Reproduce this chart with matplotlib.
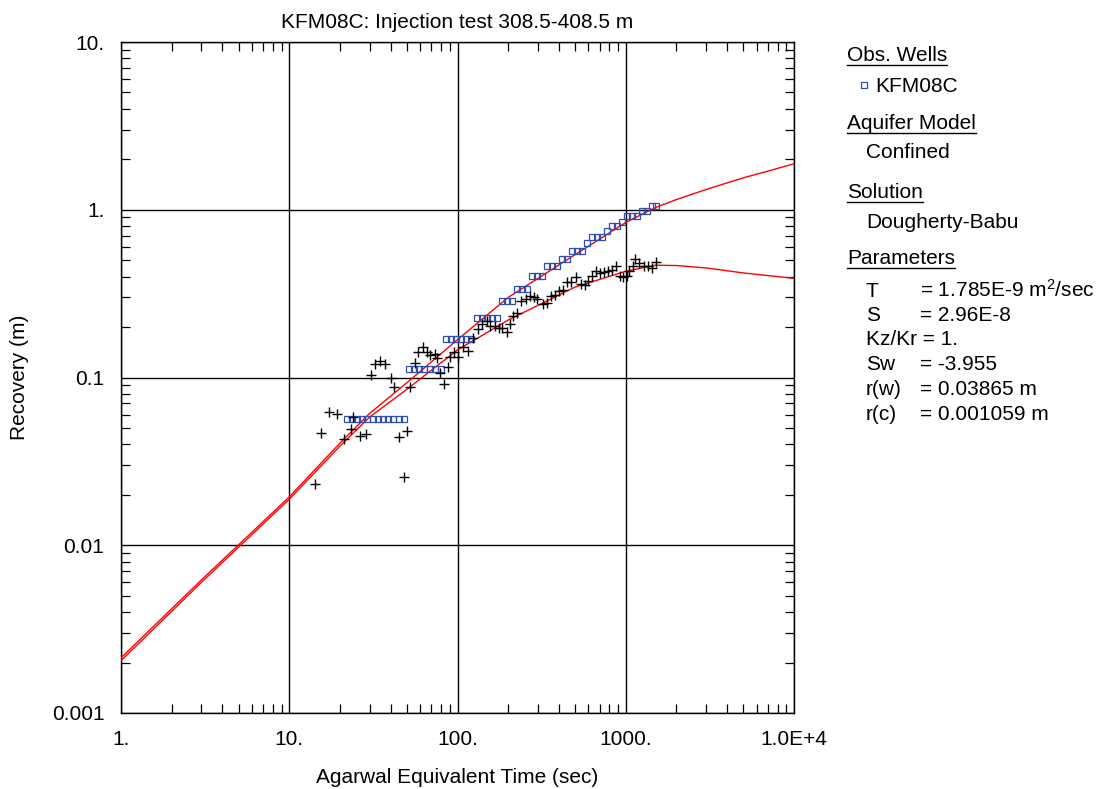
"""Recovery vs Agarwal equivalent time, KFM08C injection test."""

import matplotlib
matplotlib.use("Agg")
import matplotlib.pyplot as plt
from matplotlib.lines import Line2D
from matplotlib.ticker import FixedLocator, FixedFormatter, LogLocator, NullFormatter

plt.rcParams["font.family"] = ["Liberation Sans", "DejaVu Sans"]
plt.rcParams["mathtext.fontset"] = "custom"
plt.rcParams["mathtext.rm"] = "Liberation Sans"
plt.rcParams["mathtext.it"] = "Liberation Sans"

# observed recovery (squares)
obs_t = [22.1, 23.7, 25.4, 27.2, 29.1, 31.6, 33.9, 36.3, 38.8, 41.6, 45.1, 48.4,
         51.8, 55.5, 59.4, 63.6, 69.1, 74.0, 80.3,
         86.0, 92.1, 98.6, 105.6, 113.1, 121.1,
         129.7, 138.9, 148.8, 159.3, 170.6,
         182.7, 195.7, 209.6,
         224.5, 240.4, 257.5,
         275.7, 295.3, 316.2,
         338.6, 362.6, 388.3,
         415.9, 445.4,
         477.0, 510.8, 547.1,
         585.9,
         627.5, 672.0, 719.7,
         770.8,
         825.5, 884.1,
         946.8,
         1014, 1086, 1162,
         1245, 1333,
         1428, 1509]
obs_s = [0.0567] * 12 + [0.1127] * 7 + [0.1695] * 6 + [0.226] * 5 + [0.284] * 3 \
    + [0.338] * 3 + [0.401] * 3 + [0.459] * 3 + [0.508] * 2 + [0.566] * 3 \
    + [0.633] + [0.685] * 3 + [0.743] + [0.795] * 2 + [0.851] + [0.912] * 3 \
    + [0.977] * 2 + [1.047] * 2

# derivative (crosses)
der_t = [14.3, 15.4, 17.3, 19.2, 21.3, 23.4, 24.0, 26.3, 28.6, 30.6, 32.5, 34.7,
         36.9, 40.1, 42.0, 44.8, 48.0, 50.4, 52.3, 56.0, 58.0, 62.0, 66.0, 68.8,
         73.0, 75.7, 79.2, 82.6, 87.6, 90.5, 95.0, 100.0, 108, 116, 124, 133,
         140, 149, 157, 167, 176, 185, 196, 205, 215, 227, 240, 254, 269, 285,
         298, 324, 339, 358, 380, 401, 424, 446, 471, 506, 545, 570, 597, 634,
         666, 703, 743, 785, 829, 881, 921, 968, 1014, 1047, 1097, 1142, 1200,
         1285, 1358, 1435, 1510]
der_s = [0.0231, 0.0464, 0.0622, 0.0609, 0.0428, 0.0494, 0.058, 0.0446, 0.046,
         0.103, 0.120, 0.126, 0.120, 0.0996, 0.0872, 0.0444, 0.0255, 0.0483,
         0.0875, 0.1215, 0.141, 0.151, 0.141, 0.136, 0.138, 0.130, 0.106, 0.0917,
         0.116, 0.132, 0.142, 0.133, 0.153, 0.143, 0.172, 0.195, 0.207, 0.216,
         0.204, 0.202, 0.197, 0.196, 0.188, 0.207, 0.232, 0.242, 0.284, 0.294,
         0.305, 0.302, 0.295, 0.274, 0.278, 0.308, 0.312, 0.327, 0.334, 0.370,
         0.370, 0.396, 0.363, 0.358, 0.374, 0.404, 0.430, 0.420, 0.424, 0.430,
         0.439, 0.459, 0.401, 0.398, 0.404, 0.430, 0.459, 0.508, 0.482, 0.459,
         0.465, 0.449, 0.486]

# fitted type curves
fit_t = [1, 3, 10, 20, 30, 50, 100, 200, 500, 1000, 1500, 2000, 3000, 5000,
         7000, 10000]
fit_s = [0.00213, 0.0062, 0.0194, 0.0406, 0.061, 0.093, 0.168, 0.30, 0.54,
         0.84, 1.03, 1.15, 1.32, 1.55, 1.70, 1.88]
fit_der_t = [1, 3, 10, 20, 30, 50, 100, 200, 500, 1000, 1500, 2000, 3000, 5000,
             10000]
fit_der_s = [0.00205, 0.0060, 0.0188, 0.039, 0.058, 0.085, 0.146, 0.22, 0.346,
             0.43, 0.467, 0.465, 0.45, 0.42, 0.39]

x_ticks = [1, 10, 100, 1000, 10000]
x_labels = ["1.", "10.", "100.", "1000.", "1.0E+4"]
y_ticks = [0.001, 0.01, 0.1, 1, 10]
y_labels = ["0.001", "0.01", "0.1", "1.", "10."]

W, H = 1103, 789
fig = plt.figure(figsize=(W / 100, H / 100), dpi=100)
ax = fig.add_axes([121 / W, 1 - 713 / H, (794 - 121) / W, (713 - 42) / H])

ax.plot(fit_t, fit_s, color="#ff0000", lw=1.0, zorder=3)
ax.plot(fit_der_t, fit_der_s, color="#ff0000", lw=1.0, zorder=3)
ax.plot(obs_t, obs_s, ls="none", marker="s", ms=3.8, mfc="none",
        mec="#2f4fae", mew=0.9, zorder=4)
ax.plot(der_t, der_s, ls="none", marker="+", ms=6.5, color="black",
        mew=1.0, zorder=4)

ax.set_xscale("log")
ax.set_yscale("log")
ax.set_xlim(1, 1e4)
ax.set_ylim(1e-3, 10)
ax.xaxis.set_major_locator(FixedLocator(x_ticks))
ax.xaxis.set_major_formatter(FixedFormatter(x_labels))
ax.yaxis.set_major_locator(FixedLocator(y_ticks))
ax.yaxis.set_major_formatter(FixedFormatter(y_labels))
ax.xaxis.set_minor_locator(LogLocator(base=10, subs=range(2, 10), numticks=20))
ax.yaxis.set_minor_locator(LogLocator(base=10, subs=range(2, 10), numticks=20))
ax.xaxis.set_minor_formatter(NullFormatter())
ax.yaxis.set_minor_formatter(NullFormatter())
ax.tick_params(which="both", direction="in", top=True, right=True,
               labelsize=15, color="black")
ax.tick_params(which="major", length=0, pad=12)
ax.tick_params(which="minor", length=6.5, width=0.9)
ax.grid(True, which="major", color="black", lw=1.0)
for sp in ax.spines.values():
    sp.set_linewidth(1.0)

ax.set_title("KFM08C: Injection test 308.5-408.5 m", fontsize=15, pad=10)
ax.set_xlabel("Agarwal Equivalent Time (sec)", fontsize=15, labelpad=14)
ax.set_ylabel("Recovery (m)", fontsize=15, labelpad=16)


def fx(px):
    return px / W


def fy(py):
    return 1 - py / H


headers = [("Obs. Wells", 61), ("Aquifer Model", 129), ("Solution", 198),
           ("Parameters", 264)]
header_texts = []
for label, base in headers:
    t = fig.text(fx(847), fy(base), label, fontsize=15, va="baseline")
    header_texts.append((t, base))

fig.text(fx(875), fy(92), "KFM08C", fontsize=15, va="baseline")
fig.add_artist(Line2D([fx(864)], [fy(85)], marker="s", ms=3.8, mfc="none",
                      mec="#2f4fae", mew=0.9, ls="none"))
fig.text(fx(866), fy(158), "Confined", fontsize=15, va="baseline")
fig.text(fx(866), fy(228), "Dougherty-Babu", fontsize=15, va="baseline")

params = [("T", "= 1.785E-9 m$^{2}$/sec", 297), ("S", "= 2.96E-8", 321),
          ("Sw", "= -3.955", 370), ("r(w)", "= 0.03865 m", 395),
          ("r(c)", "= 0.001059 m", 420)]
for name, val, base in params:
    fig.text(fx(866), fy(base), name, fontsize=15, va="baseline")
    fig.text(fx(920), fy(base), val, fontsize=15, va="baseline")
fig.text(fx(866), fy(345), "Kz/Kr = 1.", fontsize=15, va="baseline")

fig.canvas.draw()
renderer = fig.canvas.get_renderer()
for t, base in header_texts:
    bb = t.get_window_extent(renderer)
    fig.add_artist(Line2D([bb.x0 / W, bb.x1 / W], [fy(base + 4)] * 2,
                          color="black", lw=1.0))

fig.savefig("out.png", dpi=100)
plt.close(fig)
